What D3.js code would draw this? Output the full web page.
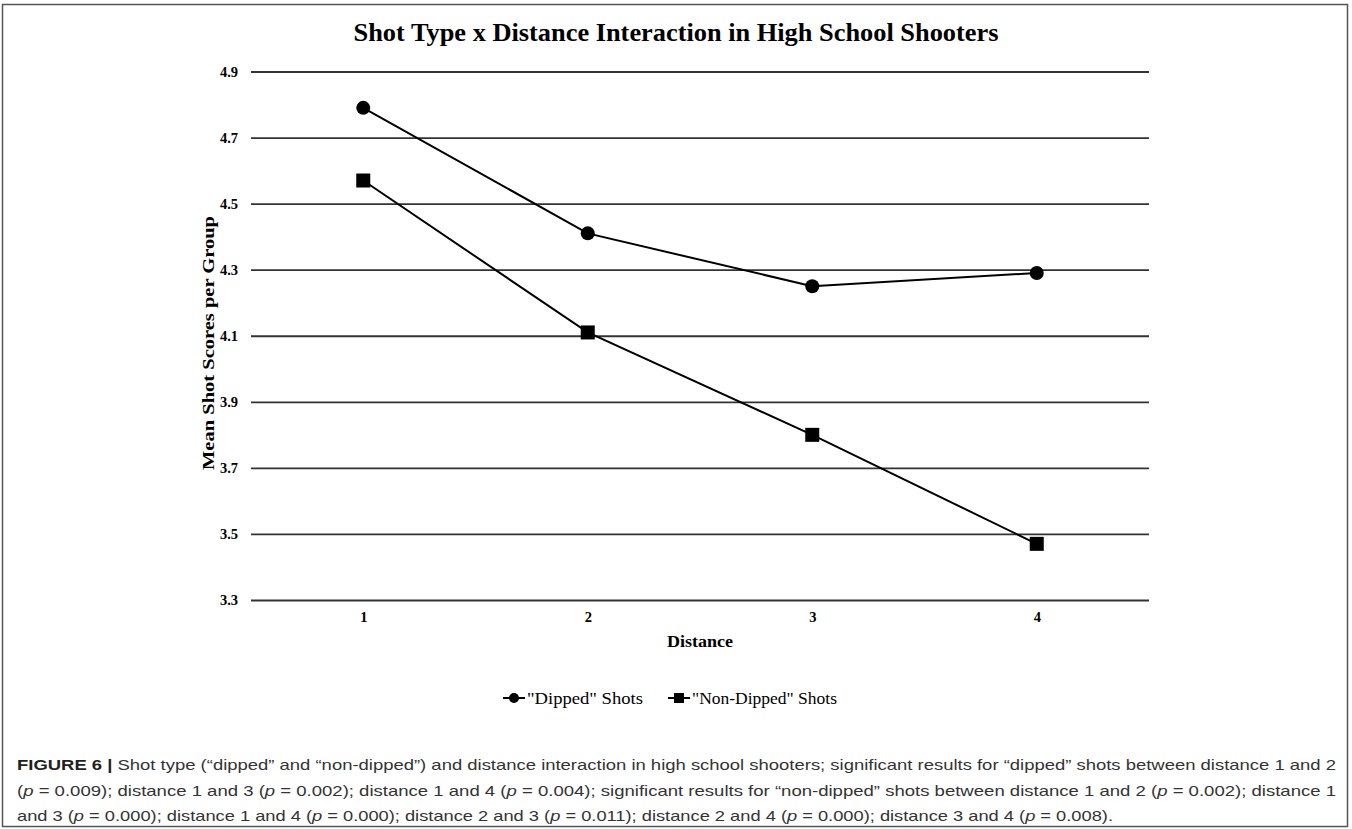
<!DOCTYPE html>
<html><head><meta charset="utf-8">
<script src="https://cdn.jsdelivr.net/npm/d3@7"></script>
<style>body{margin:0;background:#fff}svg{display:block}</style></head>
<body>
<svg id="c" width="1352" height="829"></svg>
<script>
// ---- data ----
const distances = ["1", "2", "3", "4"];
const dipped = [4.79, 4.41, 4.25, 4.29];
const nonDipped = [4.57, 4.11, 3.80, 3.47];
const yTicks = [3.3, 3.5, 3.7, 3.9, 4.1, 4.3, 4.5, 4.7, 4.9];
const seriesNames = ['"Dipped" Shots', '"Non-Dipped" Shots'];
const title = "Shot Type x Distance Interaction in High School Shooters";
const xTitle = "Distance";
const yTitle = "Mean Shot Scores per Group";

// caption lines: [text, style] segments (b = bold, i = italic)
const captionLines = [
  [["FIGURE 6 | ", "b"], ["Shot type (\u201cdipped\u201d and \u201cnon-dipped\u201d) and distance interaction in high school shooters; significant results for \u201cdipped\u201d shots between distance 1 and 2", ""]],
  [["(", ""], ["p", "i"], [" = 0.009); distance 1 and 3 (", ""], ["p", "i"], [" = 0.002); distance 1 and 4 (", ""], ["p", "i"], [" = 0.004); significant results for \u201cnon-dipped\u201d shots between distance 1 and 2 (", ""], ["p", "i"], [" = 0.002); distance 1", ""]],
  [["and 3 (", ""], ["p", "i"], [" = 0.000); distance 1 and 4 (", ""], ["p", "i"], [" = 0.000); distance 2 and 3 (", ""], ["p", "i"], [" = 0.011); distance 2 and 4 (", ""], ["p", "i"], [" = 0.000); distance 3 and 4 (", ""], ["p", "i"], [" = 0.008).", ""]]
];

const svg = d3.select("#c");
const serif = "'Liberation Serif', 'Times New Roman', serif";
const sans = "'Liberation Sans', Arial, sans-serif";

// outer frame
svg.append("rect").attr("x", 2.5).attr("y", 4.5).attr("width", 1345).attr("height", 822)
  .attr("fill", "none").attr("stroke", "#555").attr("stroke-width", 1.5);

const L = 251, R = 1149, T = 71.5, B = 600;
const x = d3.scalePoint().domain(distances).range([L, R]).padding(0.5);
const y = d3.scaleLinear().domain([3.3, 4.9]).range([B, T]);

// y axis with gridlines
const ya = svg.append("g").attr("transform", `translate(${L},0)`)
  .call(d3.axisLeft(y).tickValues(yTicks).tickFormat(d3.format(".1f")).tickSize(-(R - L)).tickPadding(13));
ya.select(".domain").remove();
ya.selectAll(".tick line").attr("stroke", "#333").attr("stroke-width", 1.8);
ya.selectAll(".tick text").attr("font-family", serif).attr("font-weight", "bold").attr("font-size", 14.5).attr("fill", "#000");

// x axis labels
const xa = svg.append("g").attr("transform", `translate(0,${B})`)
  .call(d3.axisBottom(x).tickSize(0).tickPadding(12));
xa.select(".domain").remove();
xa.selectAll(".tick text").attr("font-family", serif).attr("font-weight", "bold").attr("font-size", 14.5).attr("fill", "#000");

// titles
svg.append("text").attr("x", 676).attr("y", 41).attr("text-anchor", "middle")
  .attr("font-family", serif).attr("font-weight", "bold").attr("font-size", 25)
  .attr("textLength", 645).attr("lengthAdjust", "spacingAndGlyphs").text(title);
svg.append("text").attr("x", (L + R) / 2).attr("y", 647).attr("text-anchor", "middle")
  .attr("font-family", serif).attr("font-weight", "bold").attr("font-size", 16.5)
  .attr("textLength", 66).attr("lengthAdjust", "spacingAndGlyphs").text(xTitle);
svg.append("text").attr("transform", `translate(214,343) rotate(-90)`).attr("text-anchor", "middle")
  .attr("font-family", serif).attr("font-weight", "bold").attr("font-size", 17)
  .attr("textLength", 254).attr("lengthAdjust", "spacingAndGlyphs").text(yTitle);

// series
const line = d3.line().x((d, i) => x(distances[i])).y(d => y(d));
const series = [
  {name: seriesNames[0], values: dipped, shape: "circle", w: 116},
  {name: seriesNames[1], values: nonDipped, shape: "square", w: 145}
];
series.forEach(s => {
  svg.append("path").datum(s.values).attr("d", line).attr("fill", "none")
    .attr("stroke", "#000").attr("stroke-width", 2);
  const g = svg.append("g");
  s.values.forEach((v, i) => {
    if (s.shape === "circle") {
      g.append("circle").attr("cx", x(distances[i])).attr("cy", y(v)).attr("r", 7).attr("fill", "#000");
    } else {
      g.append("rect").attr("x", x(distances[i]) - 7).attr("y", y(v) - 7).attr("width", 14).attr("height", 14).attr("fill", "#000");
    }
  });
});

// legend
const legX = [503, 668];
series.forEach((s, k) => {
  const g = svg.append("g").attr("transform", `translate(${legX[k]},698)`);
  g.append("line").attr("x1", 0).attr("x2", 22).attr("y1", 0).attr("y2", 0).attr("stroke", "#000").attr("stroke-width", 2);
  if (s.shape === "circle") g.append("circle").attr("cx", 11).attr("cy", 0).attr("r", 5).attr("fill", "#000");
  else g.append("rect").attr("x", 6).attr("y", -5).attr("width", 10).attr("height", 10).attr("fill", "#000");
  g.append("text").attr("x", 24).attr("y", 5.5).attr("font-family", serif).attr("font-size", 16.5)
    .attr("textLength", s.w).attr("lengthAdjust", "spacingAndGlyphs").text(s.name);
});

// caption
const capY = [770, 795.5, 821];
const capW = [1319, 1319, 1096];
captionLines.forEach((segs, li) => {
  const t = svg.append("text").attr("x", 17).attr("y", capY[li])
    .attr("font-family", sans).attr("font-size", 15).attr("fill", "#333");
  segs.forEach(([txt, st]) => {
    const ts = t.append("tspan").text(txt);
    if (st === "b") ts.attr("font-weight", "bold").attr("fill", "#231f20");
    if (st === "i") ts.attr("font-style", "italic");
  });
  t.attr("textLength", capW[li]).attr("lengthAdjust", "spacingAndGlyphs");
});
</script>
</body></html>
